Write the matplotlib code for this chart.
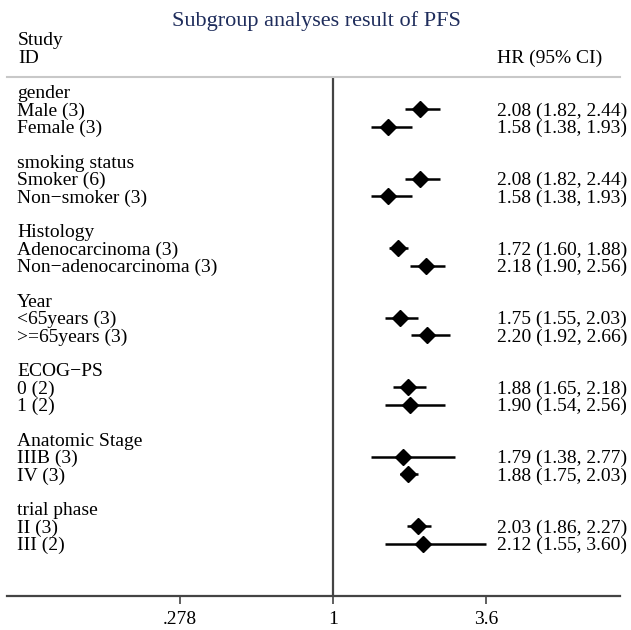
import numpy as np
import matplotlib
matplotlib.use("Agg")
import matplotlib.pyplot as plt
from matplotlib.transforms import blended_transform_factory

# Datos del forest plot (HR e IC 95%)
groups = ["gender", "smoking status", "Histology", "Year",
          "ECOG\u2212PS", "Anatomic Stage", "trial phase"]
subgroups = [
    ["Male (3)", "Female (3)"],
    ["Smoker (6)", "Non\u2212smoker (3)"],
    ["Adenocarcinoma (3)", "Non\u2212adenocarcinoma (3)"],
    ["<65years (3)", ">=65years (3)"],
    ["0 (2)", "1 (2)"],
    ["IIIB (3)", "IV (3)"],
    ["II (3)", "III (2)"],
]
hr = [2.08, 1.58, 2.08, 1.58, 1.72, 2.18, 1.75, 2.20, 1.88, 1.90, 1.79, 1.88, 2.03, 2.12]
lower = [1.82, 1.38, 1.82, 1.38, 1.60, 1.90, 1.55, 1.92, 1.65, 1.54, 1.38, 1.75, 1.86, 1.55]
upper = [2.44, 1.93, 2.44, 1.93, 1.88, 2.56, 2.03, 2.66, 2.18, 2.56, 2.77, 2.03, 2.27, 3.60]
xticks = [0.278, 1, 3.6]
xtick_labels = [".278", "1", "3.6"]

plt.rcParams['font.family'] = ['Liberation Serif', 'DejaVu Serif']

W, H = 631, 630
fig = plt.figure(figsize=(W / 100, H / 100), dpi=100)

# ejes: de x=7px a x=620px, de y=77px a y=596px
ax = fig.add_axes([7 / W, 1 - 596 / H, 613 / W, (596 - 77) / H])
ax.set_xscale('log')
ax.set_xlim(0.0652, 11.06)
ax.set_ylim(29.0, -0.862)

# filas: cabecera de grupo + 2 subgrupos + fila vacía
rows_lab = []
rows_pt = []
r = 0
for g, subs in zip(groups, subgroups):
    rows_lab.append((r, g))
    r += 1
    for s in subs:
        rows_lab.append((r, s))
        rows_pt.append(r)
        r += 1
    r += 1

ax.axvline(1, color='#444444', lw=1.6, zorder=1)
for y, h, lo, up in zip(rows_pt, hr, lower, upper):
    ax.plot([lo, up], [y, y], color='black', lw=1.8, solid_capstyle='butt', zorder=2)
    ax.plot([h], [y], marker='D', ms=8.6, color='black', zorder=3)

fs = 14
tr_left = blended_transform_factory(fig.transFigure, ax.transData)
for y, lab in rows_lab:
    ax.text(17 / W, y + 0.1, lab, transform=tr_left, fontsize=fs, va='center', ha='left', clip_on=False)
for y, h, lo, up in zip(rows_pt, hr, lower, upper):
    ax.text(497 / W, y + 0.1, f"{h:.2f} ({lo:.2f}, {up:.2f})", transform=tr_left,
            fontsize=fs, va='center', ha='left', clip_on=False)

# cabeceras
ax.text(18 / W, -2.95, "Study", transform=tr_left, fontsize=fs, va='center', ha='left', clip_on=False)
ax.text(18 / W, -1.95, "ID", transform=tr_left, fontsize=fs, va='center', ha='left', clip_on=False)
ax.text(497 / W, -1.95, "HR (95% CI)", transform=tr_left, fontsize=fs, va='center', ha='left', clip_on=False)
fig.text(316 / W, 1 - 21 / H, "Subgroup analyses result of PFS", fontsize=16,
         color='#1f2d5c', ha='center', va='center')

for side in ['left', 'right']:
    ax.spines[side].set_visible(False)
ax.spines['top'].set_color('#c8c8c8')
ax.spines['top'].set_linewidth(1.5)
ax.spines['bottom'].set_color('#444444')
ax.spines['bottom'].set_linewidth(1.6)

ax.set_yticks([])
ax.set_xticks(xticks)
ax.set_xticklabels(xtick_labels)
ax.xaxis.set_minor_locator(matplotlib.ticker.NullLocator())
ax.tick_params(axis='x', length=6, width=1.2, color='#444444', labelsize=fs, pad=5)

fig.savefig("out.png", dpi=100, facecolor='white')
